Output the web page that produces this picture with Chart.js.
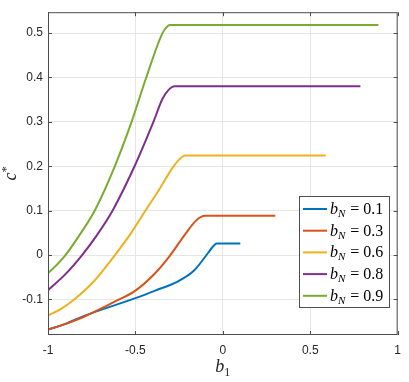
<!DOCTYPE html>
<html>
<head>
<meta charset="utf-8">
<script src="https://cdn.jsdelivr.net/npm/chart.js@4.4.1/dist/chart.umd.min.js"></script>
<style>
html, body { margin: 0; padding: 0; background: #fff; }
</style>
</head>
<body>
<canvas id="chart" width="409" height="382"></canvas>
<script>
// b_N values for each curve
const bN = [0.1, 0.3, 0.6, 0.8, 0.9];
const colors = ['#0072BD', '#D95319', '#EDB120', '#7E2F8E', '#77AC30'];

// curves: b1 (x) and c* (y)
const b1_01 = [-1, -0.9, -0.8, -0.5, -0.387, -0.256, -0.163, -0.088, -0.06, -0.045, -0.035, 0.1];
const c_01  = [-0.168, -0.155, -0.138, -0.097, -0.08, -0.059, -0.034, 0.003, 0.0176, 0.024, 0.026, 0.026];

const b1_03 = [-1, -0.9, -0.8, -0.593, -0.5, -0.39, -0.3, -0.21, -0.155, -0.125, -0.1, 0.3];
const c_03  = [-0.168, -0.155, -0.14, -0.1, -0.08, -0.042, 0, 0.05, 0.077, 0.086, 0.0886, 0.0886];

const b1_06 = [-1, -0.925, -0.85, -0.737, -0.617, -0.524, -0.443, -0.36, -0.285, -0.25, -0.215, 0.589];
const c_06  = [-0.136, -0.121, -0.1, -0.059, 0, 0.05, 0.1, 0.15, 0.198, 0.215, 0.224, 0.224];

const b1_08 = [-1, -0.9, -0.805, -0.72, -0.631, -0.505, -0.397, -0.345, -0.31, -0.275, 0.787];
const c_08  = [-0.079, -0.043, 0, 0.045, 0.1, 0.2, 0.3, 0.352, 0.372, 0.38, 0.38];

const b1_09 = [-1, -0.95, -0.9, -0.82, -0.733, -0.618, -0.522, -0.438, -0.345, -0.315, -0.3, 0.89];
const c_09  = [-0.041, -0.022, 0, 0.045, 0.1, 0.2, 0.3, 0.4, 0.5, 0.516, 0.518, 0.518];

const xTicks = [-1, -0.5, 0, 0.5, 1];
const yTicks = [-0.1, 0, 0.1, 0.2, 0.3, 0.4, 0.5];

const series = [[b1_01, c_01], [b1_03, c_03], [b1_06, c_06], [b1_08, c_08], [b1_09, c_09]];

const datasets = series.map(([xs, ys], i) => ({
    label: 'bN = ' + bN[i],
    data: xs.map((x, j) => ({ x: x, y: ys[j] })),
    borderColor: colors[i],
    borderWidth: 2,
    pointRadius: 0,
    fill: false,
    cubicInterpolationMode: 'monotone',
    order: 5 - i
}));

const AXIS_COLOR = '#262626';

// MATLAB-ish box, inner ticks, math titles and legend
const matlabDecor = {
    id: 'matlabDecor',
    afterDraw(chart) {
        const ctx = chart.ctx;
        const a = chart.chartArea;
        const xs = chart.scales.x, ys = chart.scales.y;
        ctx.save();

        // box
        ctx.strokeStyle = '#4d4d4d';
        ctx.lineWidth = 1;
        ctx.strokeRect(a.left + 0.5, a.top + 0.5, a.right - a.left - 1, a.bottom - a.top - 1);

        // ticks pointing inwards
        const tl = 4;
        ctx.beginPath();
        xTicks.forEach(v => {
            const px = Math.round(xs.getPixelForValue(v)) + 0.5;
            ctx.moveTo(px, a.bottom); ctx.lineTo(px, a.bottom - tl);
            ctx.moveTo(px, a.top); ctx.lineTo(px, a.top + tl);
        });
        yTicks.forEach(v => {
            const py = Math.round(ys.getPixelForValue(v)) + 0.5;
            ctx.moveTo(a.left, py); ctx.lineTo(a.left + tl, py);
            ctx.moveTo(a.right, py); ctx.lineTo(a.right - tl, py);
        });
        ctx.stroke();

        ctx.fillStyle = AXIS_COLOR;
        ctx.textBaseline = 'alphabetic';
        ctx.textAlign = 'left';

        // x title: b_1
        const cx = (a.left + a.right) / 2;
        ctx.font = 'italic 18px "Liberation Serif"';
        const wb = ctx.measureText('b').width;
        ctx.font = '12px "Liberation Serif"';
        const w1 = ctx.measureText('1').width;
        let sx = cx - (wb + w1) / 2;
        ctx.font = 'italic 18px "Liberation Serif"';
        ctx.fillText('b', sx, 372);
        ctx.font = '12px "Liberation Serif"';
        ctx.fillText('1', sx + wb, 376);

        // y title: c^*
        ctx.save();
        ctx.translate(16, (a.top + a.bottom) / 2);
        ctx.rotate(-Math.PI / 2);
        ctx.font = 'italic 18px "Liberation Serif"';
        const wc = ctx.measureText('c').width;
        ctx.fillText('c', -(wc + 6) / 2, 0);
        ctx.font = '13px "Liberation Serif"';
        ctx.fillText('*', -(wc + 6) / 2 + wc, -6);
        ctx.restore();

        // legend
        const lx = 299.5, ly = 196.5, lw = 90, lh = 111;
        ctx.fillStyle = '#fff';
        ctx.fillRect(lx, ly, lw, lh);
        ctx.strokeStyle = '#4d4d4d';
        ctx.lineWidth = 1;
        ctx.strokeRect(lx, ly, lw, lh);
        bN.forEach((v, i) => {
            const ry = 209 + i * 21.7;
            ctx.strokeStyle = colors[i];
            ctx.lineWidth = 2;
            ctx.beginPath();
            ctx.moveTo(303, ry); ctx.lineTo(327, ry);
            ctx.stroke();
            ctx.fillStyle = '#000';
            let tx = 330;
            const base = ry + 5;
            ctx.font = 'italic 16px "Liberation Serif"';
            ctx.fillText('b', tx, base);
            tx += ctx.measureText('b').width;
            ctx.font = 'italic 11px "Liberation Serif"';
            ctx.fillText('N', tx, base + 3);
            tx += ctx.measureText('N').width + 5;
            ctx.font = '16px "Liberation Serif"';
            ctx.fillText('=', tx, base);
            tx += ctx.measureText('=').width + 4;
            ctx.fillText(String(v), tx, base);
        });
        ctx.restore();
    }
};

new Chart(document.getElementById('chart'), {
    type: 'line',
    data: { datasets: datasets },
    options: {
        responsive: false,
        animation: false,
        layout: { padding: { top: 4, right: 5, left: 0, bottom: 0 } },
        plugins: {
            legend: { display: false },
            tooltip: { enabled: false }
        },
        scales: {
            x: {
                type: 'linear',
                min: -1,
                max: 1,
                afterBuildTicks: s => { s.ticks = xTicks.map(v => ({ value: v })); },
                afterFit: s => { s.height = 47; },
                grid: { color: '#e6e6e6', drawTicks: false },
                border: { display: false },
                ticks: {
                    padding: 8,
                    color: AXIS_COLOR,
                    font: { family: 'Liberation Sans', size: 12 },
                    callback: v => String(v)
                }
            },
            y: {
                type: 'linear',
                min: -0.18,
                max: 0.547,
                afterBuildTicks: s => { s.ticks = yTicks.map(v => ({ value: v })); },
                afterFit: s => { s.width = 48; },
                grid: { color: '#e6e6e6', drawTicks: false },
                border: { display: false },
                ticks: {
                    padding: 5,
                    color: AXIS_COLOR,
                    font: { family: 'Liberation Sans', size: 12 },
                    callback: v => String(+v.toFixed(2))
                }
            }
        }
    },
    plugins: [matlabDecor]
});
</script>
</body>
</html>
